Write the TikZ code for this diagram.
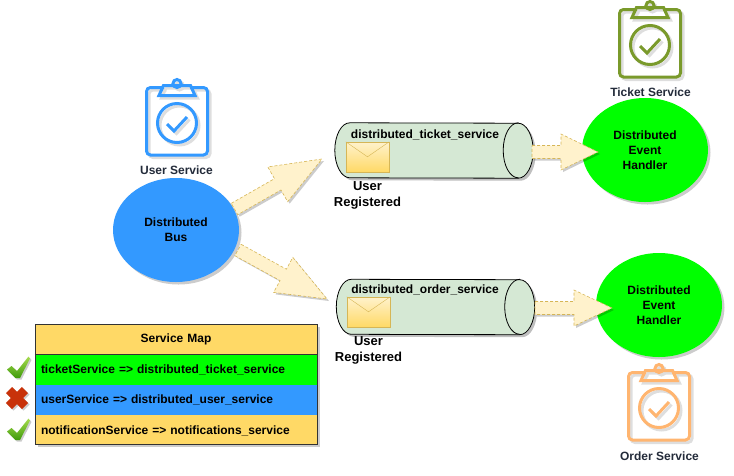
\documentclass[tikz,border=0pt]{standalone}
\usepackage{fontspec}
\setmainfont{Liberation Sans}
\usetikzlibrary{positioning, shapes.geometric, calc, shadows}

\definecolor{busblue}{HTML}{3399FF}
\definecolor{mapyellow}{HTML}{FFD966}
\definecolor{topicgreen}{HTML}{D5E8D4}
\definecolor{arrowfill}{HTML}{FFF2CC}
\definecolor{arrowline}{HTML}{D6B656}
\definecolor{ticketolive}{HTML}{7A9A2B}
\definecolor{orderpeach}{HTML}{FFB570}
\definecolor{labeldark}{HTML}{232B3A}
\definecolor{crossred}{HTML}{C8320A}
\definecolor{ticklight}{HTML}{A6DC4E}
\definecolor{tickdark}{HTML}{3E9A0A}

% from, to, head length, head half width
\newcommand{\fatarrow}[4]{
  \coordinate (neck) at ($(#2)!#3!(#1)$);
  \draw[fat arrow, drop shadow={shadow xshift=2pt, shadow yshift=-2pt, opacity=.2, fill=black}]
    ($(#1)!6.5pt!90:(#2)$) -- ($(neck)!6.5pt!90:(#2)$) -- ($(neck)!#4!90:(#2)$) -- (#2)
    -- ($(neck)!#4!-90:(#2)$) -- ($(neck)!6.5pt!-90:(#2)$) -- ($(#1)!6.5pt!-90:(#2)$) -- cycle;
}
% body of a lying cylinder round a named box
\newcommand{\topicbody}[1]{
  \draw[black, fill=topicgreen, line width=.8pt, line join=round, drop shadow={shadow xshift=2.5pt, shadow yshift=-2.5pt, opacity=.25, fill=black}]
    ($(#1.north west)+(15,0)$) arc (90:270:15pt and 27.5pt) -- ($(#1.south east)+(-15,0)$)
    arc (-90:90:15pt and 27.5pt) -- cycle;
  \draw[black, line width=.8pt, line cap=round] ($(#1.north east)+(-15,0)$) arc (90:270:15pt and 27.5pt);
}
\newcommand{\clipboardpath}{
  [rounded corners=4pt] (-13,-33.5) -- (-30.5,-33.5) -- (-30.5,34) -- (30.5,34) -- (30.5,-33.5) -- (13,-33.5)
  [rounded corners=0pt] (-18,-25.5) -- (-13.5,-35.5) -- (13.5,-35.5) -- (18,-25.5) -- cycle
  (0,-37.5) circle (4)
  (0,2) circle (19.5)
  (-10,3) -- (-3,10) -- (10,-4)
}
\newcommand{\tickpath}{
  (-11.5,1.5) -- (-7,-2) -- (-1.5,3) -- (10,-11.5) -- (11.5,-9.5) -- (1.5,10) -- (-3,10) -- cycle
}

\tikzset{
  clipboard/.pic={
    \draw[line width=3pt, black, opacity=.13, shift={(2.5,2.5)}] \clipboardpath;
    \draw[line width=3pt, #1, fill=none] \clipboardpath;
  },
  tickmark/.pic={
    \fill[black, opacity=.2, shift={(1.5,1.5)}] \tickpath;
    \shade[top color=ticklight, bottom color=tickdark] \tickpath;
  },
  crossmark/.pic={
    \draw[line width=8.5pt, black, opacity=.2, shift={(1.5,1.5)}] (-8,-8) -- (8,8) (-8,8) -- (8,-8);
    \draw[line width=8.5pt, crossred] (-8,-8) -- (8,8) (-8,8) -- (8,-8);
  }
}

\begin{document}
\begin{tikzpicture}[
    x=1pt, y=-1pt,
    every node/.style={align=center, font=\fontsize{12}{15}\selectfont\bfseries},
    soft shadow/.style={drop shadow={shadow xshift=2.5pt, shadow yshift=-2.5pt, opacity=.2, fill=black}},
    servicenode/.style={ellipse, minimum width=126pt, minimum height=104pt, inner sep=0pt, soft shadow},
    topic/.style={minimum width=198pt, minimum height=55pt, inner sep=0pt},
    envelope/.style={draw=arrowline, top color=arrowfill, bottom color=mapyellow, minimum width=43pt, minimum height=30pt, inner sep=0pt},
    eventtext/.style={font=\fontsize{13}{15.5}\selectfont\bfseries},
    icontext/.style={text=labeldark},
    maprow/.style={minimum width=282pt, text width=270pt, minimum height=30pt, inner xsep=6pt, inner ysep=0pt, align=left},
    fat arrow/.style={draw=arrowline, fill=arrowfill, densely dashed, line width=.6pt}
]
\useasboundingbox (0,0) rectangle (734,475);

% Nodes
\node (bus) [servicenode, fill=busblue] at (176,230) {Distributed\\Bus};
\node (ticket_handler) [servicenode, fill=green] at (645,150) {Distributed\\Event\\Handler};
\node (order_handler) [servicenode, fill=green] at (659,305) {Distributed\\Event\\Handler};

\node (ticket_topic) [topic] at (434,150.5) {};
\node (order_topic) [topic] at (435.5,307) {};
\topicbody{ticket_topic}
\topicbody{order_topic}
\node (ticket_title) at (425,134.5) {distributed\_ticket\_service};
\node (order_title) at (425,289.5) {distributed\_order\_service};

\node (ticket_msg) [envelope] at (367.5,157) {};
\node (order_msg) [envelope] at (368.5,312) {};
\draw[arrowline] (ticket_msg.north west) -- ($(ticket_msg.north)+(0,15)$) -- (ticket_msg.north east);
\draw[arrowline] (order_msg.north west) -- ($(order_msg.north)+(0,15)$) -- (order_msg.north east);
\node (ticket_event) [eventtext] at (367.5,195.5) {User\\Registered};
\node (order_event) [eventtext] at (368.5,350.5) {User\\Registered};

% Service icons
\pic (user_icon) at (177,121) {clipboard=busblue};
\pic (ticket_icon) at (650,43) {clipboard=ticketolive};
\pic (order_icon) at (659,406) {clipboard=orderpeach};
\node (user_label) [icontext] at (176.5,170) {User Service};
\node (ticket_label) [icontext] at (650.5,92) {Ticket Service};
\node (order_label) [icontext] at (659.5,456) {Order Service};

% Service map
\node (map_frame) [minimum width=282pt, minimum height=120pt, inner sep=0pt, fill=mapyellow, soft shadow] at (176,384) {};
\node (map_head) [maprow, align=center, minimum height=30.5pt, below=0pt of map_frame.north] {Service Map};
\node (map_ticket) [maprow, fill=green, below=0pt of map_head] {ticketService => distributed\_ticket\_service};
\node (map_user) [maprow, fill=busblue, below=0pt of map_ticket] {userService => distributed\_user\_service};
\node (map_notify) [maprow, below=0pt of map_user] {notificationService => notifications\_service};
\draw[black!80, line width=.6pt] (map_frame.north west) rectangle (map_frame.south east);
\draw[black!80, line width=.6pt] (map_head.south west) -- (map_head.south east);
\pic (ticket_ok) at (18.5,368) {tickmark};
\pic (user_bad) at (17,398) {crossmark};
\pic (notify_ok) at (18.5,430) {tickmark};

% Arrows
\coordinate (bus_up) at (234.5,209);
\coordinate (ticket_in) at (322,159);
\coordinate (bus_down) at (238,250);
\coordinate (order_in) at (327,299);
\coordinate (ticket_out) at (532,152);
\coordinate (ticket_tip) at (598,152);
\coordinate (order_out) at (535,308);
\coordinate (order_tip) at (612,308);
\fatarrow{bus_up}{ticket_in}{51pt}{20pt}
\fatarrow{bus_down}{order_in}{50pt}{20pt}
\fatarrow{ticket_out}{ticket_tip}{37pt}{18pt}
\fatarrow{order_out}{order_tip}{38pt}{18pt}

\end{tikzpicture}
\end{document}
